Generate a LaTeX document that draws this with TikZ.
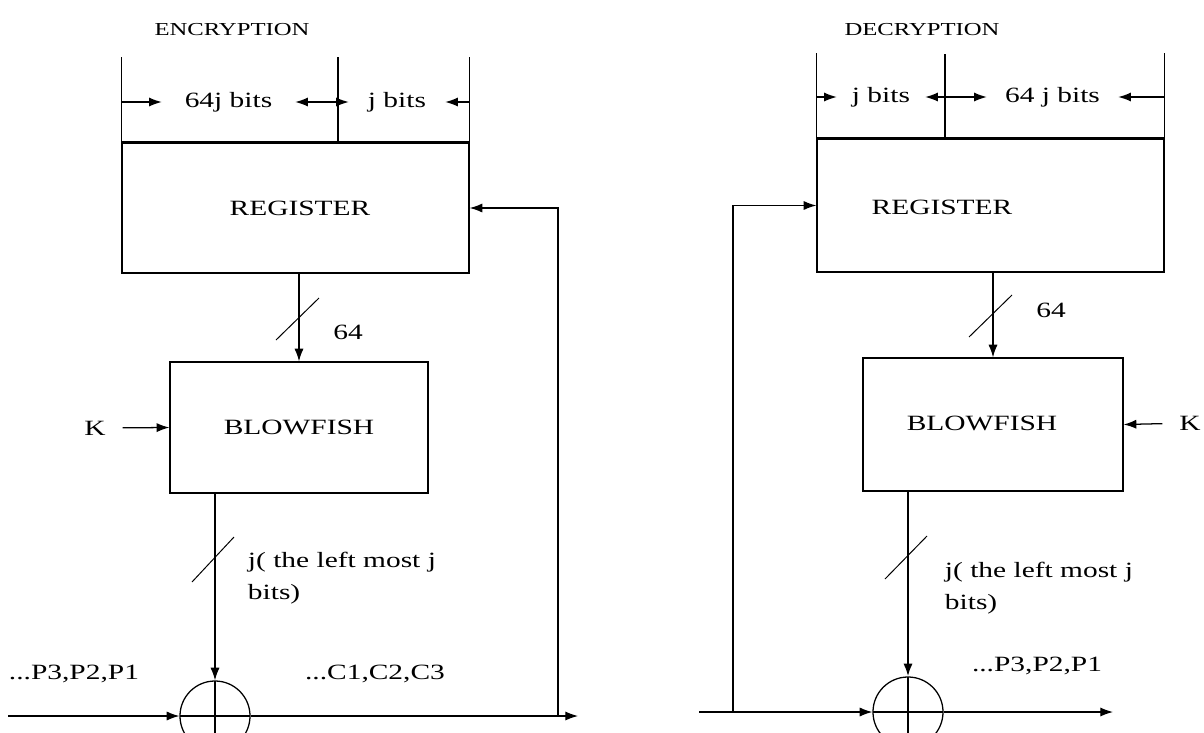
\documentclass[tikz,border=0pt]{standalone}
\usepackage{fontspec}
\setmainfont{Liberation Serif}[FakeStretch=1.35]
\usetikzlibrary{arrows.meta,positioning,calc}

\begin{document}
\begin{tikzpicture}[x=0.025cm, y=-0.025cm, font=\fontsize{15.5}{23}\selectfont,
  box/.style={draw=black, line width=0.9pt},
  arrow/.style={-{Latex[length=9pt,width=6.5pt]}, line width=0.9pt, draw=black},
  wire/.style={line width=0.9pt, draw=black},
  regtop/.style={line width=2pt, draw=black},
  bus/.style={line width=0.7pt, draw=black},
  title/.style={font=\fontsize{13}{16}\selectfont},
  xor/.style={circle, draw=black, line width=0.9pt, minimum size=1.75cm, inner sep=0pt,
    path picture={\draw[line width=0.9pt] (path picture bounding box.north) -- (path picture bounding box.south)
      (path picture bounding box.west) -- (path picture bounding box.east);}}]
\useasboundingbox (0,0) rectangle (1204,732);
\clip (0,0) rectangle (1204,732);
% encryption
\node[title] (enc) at (232,30) {ENCRYPTION};
\node[box, minimum width=8.675cm, minimum height=3.25cm] (regL) at (295.5,208) {};
\node (regLtxt) at (300,208) {REGISTER};
\node[box, minimum width=6.45cm, minimum height=3.275cm] (bfL) at (299,427.5) {BLOWFISH};
\node[xor] (xorL) at (215,716) {};
\node (kL) at (95,428) {K};
\coordinate (divL) at (338,143);
\draw[wire] (regL.north west) -- ++(0,-85);
\draw[wire] (regL.north east) -- ++(0,-85);
\draw[wire] (divL) -- ++(0,-86);
\draw[regtop] (regL.north west) -- (regL.north east);
\node[minimum width=3.325cm, inner sep=0pt] (bL1) at (228.5,102) {64j bits};
\node[minimum width=2.4cm, inner sep=0pt] (bL2) at (397,102) {j bits};
\draw[arrow] (regL.west |- bL1) -- (bL1.west);
\draw[arrow] (divL |- bL1) -- (bL1.east);
\draw[arrow] (divL |- bL2) -- (bL2.west);
\draw[arrow] (regL.east |- bL2) -- (bL2.east);
\draw[arrow] (bfL.north |- regL.south) -- (bfL.north);
\coordinate (sL1) at (298,319);
\draw[bus] ($(sL1)+(-22,21)$) -- ($(sL1)+(21,-21)$);
\node (nL) at (348,332) {64};
\draw[arrow, shorten <=0.3cm] (kL) -- (bfL.west);
\draw[arrow] (xorL.north |- bfL.south) -- (xorL.north);
\coordinate (sL2) at (214,558);
\draw[bus] ($(sL2)+(-22,24)$) -- ($(sL2)+(20,-21)$);
\node[anchor=west, align=left] (jL) at (243,578) {j( the left most j\\bits)};
\coordinate (inL) at (8,716);
\coordinate (outL) at (578,716);
\coordinate (fbL) at (558,716);
\node (pL) at (74,674) {...P3,P2,P1};
\node (cL) at (375,674) {...C1,C2,C3};
\draw[arrow] (inL) -- (xorL.west);
\draw[arrow] (xorL.east) -- (outL);
\draw[arrow] (fbL) |- (regL.east);
% decryption
\node[title] (dec) at (922,30) {DECRYPTION};
\node[box, minimum width=8.675cm, minimum height=3.325cm] (regR) at (990.5,205.5) {};
\node (regRtxt) at (942,207) {REGISTER};
\node[box, minimum width=6.5cm, minimum height=3.325cm] (bfR) at (993,424.5) {};
\node (bfRtxt) at (982,423) {BLOWFISH};
\node[xor] (xorR) at (908,712) {};
\node (kR) at (1190,423) {K};
\coordinate (divR) at (945,139);
\draw[wire] (regR.north west) -- ++(0,-85);
\draw[wire] (regR.north east) -- ++(0,-85);
\draw[wire] (divR) -- ++(0,-85);
\draw[regtop] (regR.north west) -- (regR.north east);
\node[minimum width=2.2cm, inner sep=0pt] (bR1) at (881,97) {j bits};
\node[minimum width=3.275cm, inner sep=0pt] (bR2) at (1052.5,97) {64 j bits};
\draw[arrow] (regR.west |- bR1) -- (bR1.west);
\draw[arrow] (divR |- bR1) -- (bR1.east);
\draw[arrow] (divR |- bR2) -- (bR2.west);
\draw[arrow] (regR.east |- bR2) -- (bR2.east);
\draw[arrow] (bfR.north |- regR.south) -- (bfR.north);
\coordinate (sR1) at (990,316);
\draw[bus] ($(sR1)+(-21,21)$) -- ($(sR1)+(22,-21)$);
\node (nR) at (1051,310) {64};
\draw[arrow, shorten <=0.3cm] (kR) -- (bfR.east);
\draw[arrow, line width=1.5pt] (xorR.north |- bfR.south) -- (xorR.north);
\coordinate (sR2) at (907,557);
\draw[bus] ($(sR2)+(-22,22)$) -- ($(sR2)+(20,-21)$);
\node[anchor=west, align=left] (jR) at (940,588) {j( the left most j\\bits)};
\coordinate (inR) at (699,712);
\coordinate (outR) at (1113,712);
\coordinate (fbR) at (733,712);
\node (pR) at (1037,666) {...P3,P2,P1};
\draw[arrow] (inR) -- (xorR.west);
\draw[arrow] (xorR.east) -- (outR);
\draw[arrow] (fbR) |- (regR.west);
\end{tikzpicture}
\end{document}
